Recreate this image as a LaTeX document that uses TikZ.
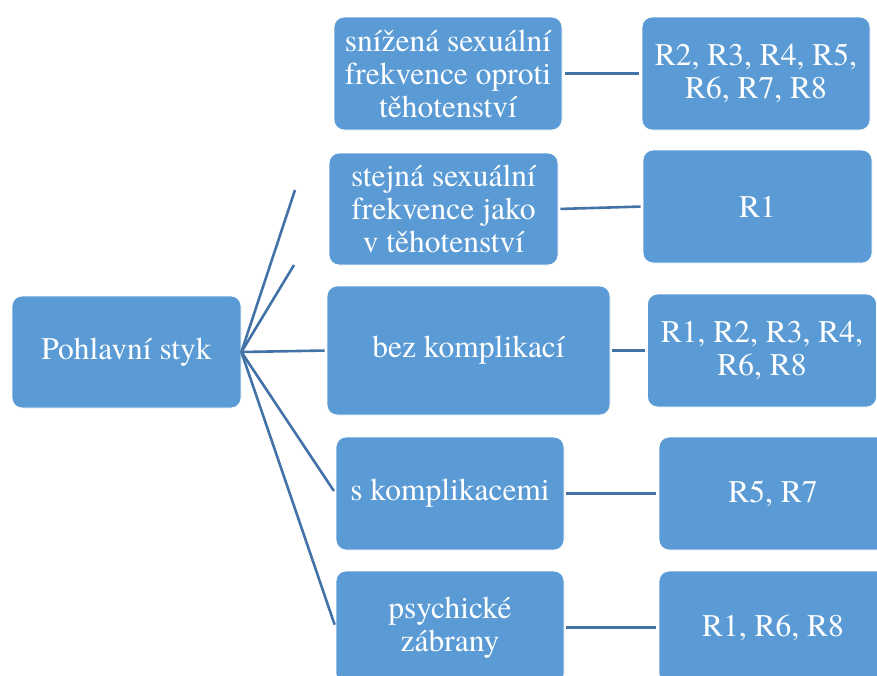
\documentclass[tikz,border=0pt]{standalone}
\usepackage{fontspec}
\setmainfont{texgyretermes-regular.otf}
\definecolor{boxblue}{HTML}{5B9BD5}
\definecolor{lineblue}{HTML}{4373A6}
\begin{document}
\begin{tikzpicture}[x=1pt,y=-1pt,
  box/.style={draw=white,line width=0.8pt,fill=boxblue,rounded corners=10pt,text=white,
    align=center,inner sep=0pt,font=\fontsize{31.5}{33}\selectfont},
  conn/.style={draw=lineblue,line width=2.6pt}]
\clip (0,0) rectangle (877,675);
% root
\node[box,minimum width=229pt,minimum height=112pt] (root) at (126.5,352) {Pohlavní styk};
% categories
\node[box,minimum width=228pt,minimum height=113pt] (snizena) at (448,73.5) {snížená sexuální\\frekvence oproti\\těhotenství};
\node[box,minimum width=229pt,minimum height=112pt] (stejna) at (443.5,209) {stejná sexuální\\frekvence jako\\v těhotenství};
\node[box,minimum width=283pt,minimum height=129pt] (bez) at (468.5,350.5) {bez komplikací};
\node[box,minimum width=228pt,minimum height=113pt] (skompl) at (450,493.5) {s komplikacemi};
\node[box,minimum width=228pt,minimum height=113pt] (psych) at (450,627.5) {psychické\\zábrany};
% respondents
\node[box,minimum width=228pt,minimum height=113pt] (rsnizena) at (756,73.5) {R2, R3, R4, R5,\\R6, R7, R8};
\node[box,minimum width=229pt,minimum height=113pt] (rstejna) at (757.5,206.5) {R1};
\node[box,minimum width=229pt,minimum height=113pt] (rbez) at (762,350.5) {R1, R2, R3, R4,\\R6, R8};
\node[box,minimum width=228pt,minimum height=113pt] (rskompl) at (773,493.5) {R5, R7};
\node[box,minimum width=228pt,minimum height=113pt] (rpsych) at (773,627.5) {R1, R6, R8};
% loose ends
\coordinate (endA) at (295,190);
\coordinate (endB) at (294,265);
% connectors
\draw[conn] (root.east) -- (endA);
\draw[conn] (root.east) -- (endB);
\draw[conn,shorten >=2pt] (root.east) -- (bez.west);
\draw[conn,shorten >=3pt] (root.east) -- (skompl.west);
\draw[conn,shorten >=3pt] (root.east) -- (psych.west);
\draw[conn,shorten <=3pt,shorten >=3pt] (snizena.east) -- (rsnizena.west);
\draw[conn,shorten <=2pt,shorten >=2pt] (stejna.east) -- (rstejna.west);
\draw[conn,shorten <=2pt,shorten >=2pt] (bez.east) -- (rbez.west);
\draw[conn,shorten <=2pt,shorten >=3pt] (skompl.east) -- (rskompl.west);
\draw[conn,shorten <=2pt,shorten >=3pt] (psych.east) -- (rpsych.west);
\end{tikzpicture}
\end{document}
